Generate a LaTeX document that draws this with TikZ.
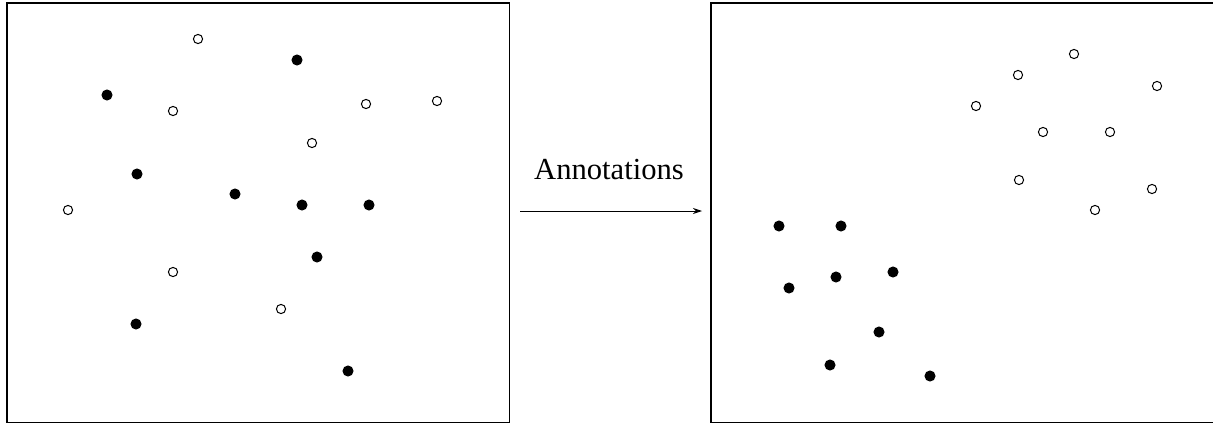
\documentclass[tikz,border=0pt]{standalone}
\usepackage{fontspec}
\setmainfont{Liberation Serif}
\usepackage{tikz}
\usetikzlibrary{arrows.meta, positioning}

\begin{document}
\begin{tikzpicture}[
        x=0.5pt, y=-0.5pt,
        panel/.style={draw=black, line width=0.6pt},
        full/.style={circle, draw=black, fill=black, line width=0.5pt, inner sep=0pt, minimum size=5pt},
        hollow/.style={circle, draw=black, fill=white, line width=0.5pt, inner sep=0pt, minimum size=4.6pt},
        flow/.style={-{Stealth[length=4.5pt, width=3pt]}, line width=0.5pt},
        tag/.style={font=\fontsize{15.3}{18}\selectfont, inner sep=0pt}
    ]
        \useasboundingbox (0,0) rectangle (1213,423);

        % Panels
        \draw[panel] (7,3) rectangle (509.5,422.5);
        \draw[panel] (711,3) rectangle (1220,422.5);

        % Before: mixed points
        \foreach \x/\y [count=\i] in {297/60, 107/95, 137/174, 235/194, 302/205, 369/205, 317/257, 136/324, 348/371}
            \node[full] (bf\i) at (\x,\y) {};
        \foreach \x/\y [count=\i] in {198/39, 173/111, 366/104, 437/101, 312/143, 68/210, 173/272, 281/309}
            \node[hollow] (bh\i) at (\x,\y) {};

        % After: grouped points
        \foreach \x/\y [count=\i] in {779/226, 841/226, 789/288, 836/277, 893/272, 879/332, 830/365, 930/376}
            \node[full] (af\i) at (\x,\y) {};
        \foreach \x/\y [count=\i] in {1074/54, 1018/75, 1157/86, 976/106, 1043/132, 1110/132, 1019/180, 1152/189, 1095/210}
            \node[hollow] (ah\i) at (\x,\y) {};

        % Arrow
        \coordinate (src) at (520,211);
        \coordinate (dst) at (702,211);
        \draw[flow] (src) -- (dst);
        \node[tag] (note) at (609,170) {Annotations};
    \end{tikzpicture}
\end{document}
